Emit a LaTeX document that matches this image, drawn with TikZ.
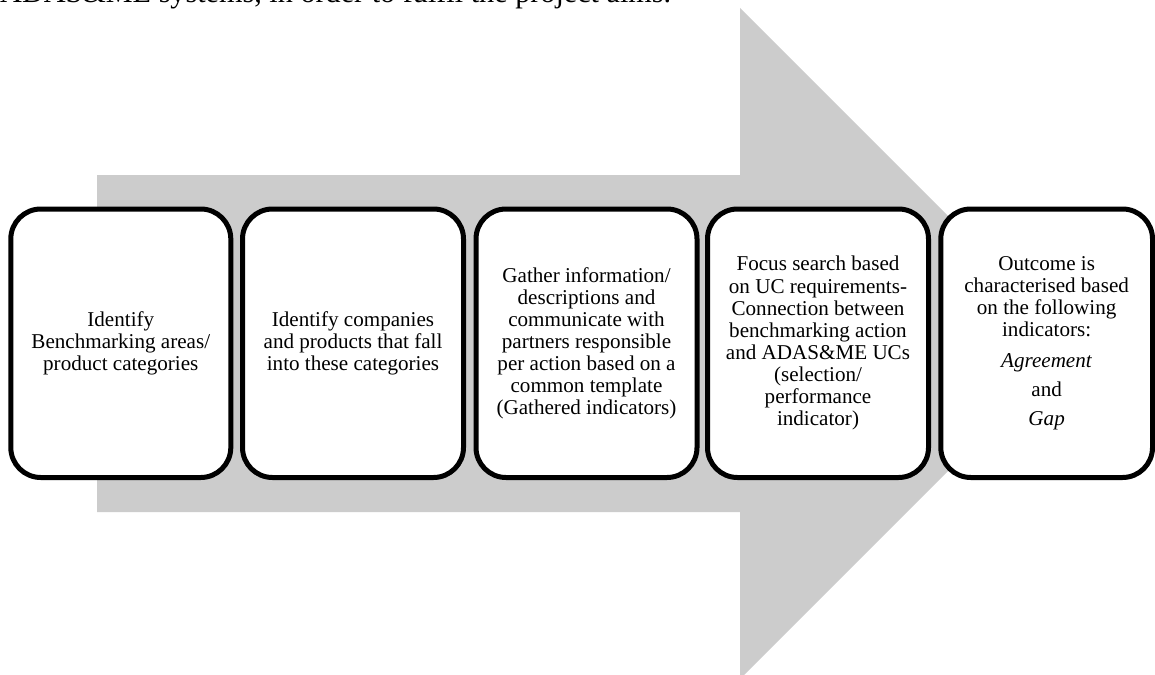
\documentclass[tikz,border=0pt]{standalone}
\usepackage{fontspec}
\setmainfont{Liberation Serif}
\definecolor{arrowgray}{RGB}{204,204,204}
\tikzset{
  stepbox/.style={draw=black, fill=white, line width=5pt, rounded corners=30pt,
    minimum height=268.5pt, align=center, inner sep=2pt,
    font=\fontsize{21.1}{22.1}\selectfont},
}
\begin{document}
\begin{tikzpicture}[x=1pt,y=-1pt]
\useasboundingbox (0,0) rectangle (1155,674);
\clip (0,0) rectangle (1155,674);
\fill[white] (0,0) rectangle (1155,674);
% big arrow
\fill[arrowgray] (97,175) -- (740,175) -- (740,8) -- (1075.5,343.5) -- (740,679) -- (740,512) -- (97,512) -- cycle;
% clipped intro text (cut off at the top edge, as in the reference)
\node[anchor=base west, inner sep=0pt, font=\fontsize{30.2}{36}\selectfont] (intro) at (0,3)
  {ADAS\&ME systems, in order to fulfil the project aims.};
% boxes
\node[stepbox, minimum width=220pt] (b1) at (120.8,343.25)
  {Identify\\Benchmarking areas/\\product categories};
\node[stepbox, minimum width=221pt] (b2) at (353,343.25)
  {Identify companies\\and products that fall\\into these categories};
\node[stepbox, minimum width=221pt] (b3) at (586.5,343.25)
  {Gather information/\\descriptions and\\communicate with\\partners responsible\\per action based on a\\common template\\(Gathered indicators)};
\node[stepbox, minimum width=221pt] (b4) at (818,343.25)
  {Focus search based\\on UC requirements-\\Connection between\\benchmarking action\\and ADAS\&ME UCs\\(selection/\\performance\\indicator)};
\node[stepbox, minimum width=211.7pt] (b5) at (1046.65,343.25)
  {Outcome is\\characterised based\\on the following\\indicators:\\[8pt]\textit{Agreement}\\[7pt]and\\[7pt]\textit{Gap}};
\end{tikzpicture}
\end{document}
